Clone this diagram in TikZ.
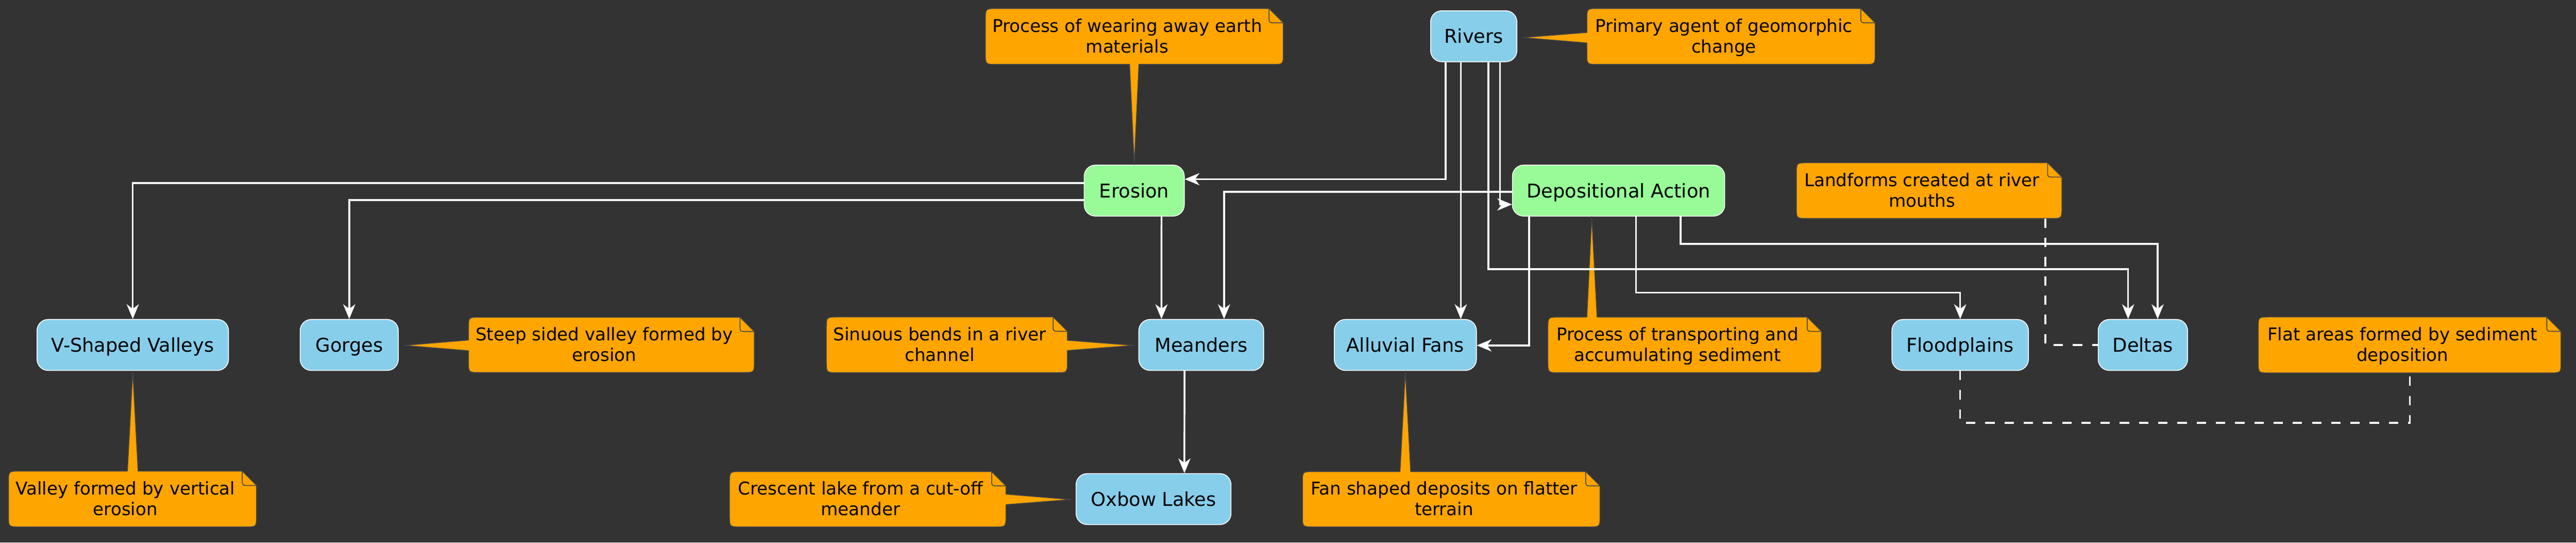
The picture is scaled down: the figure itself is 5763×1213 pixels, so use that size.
\documentclass[tikz,border=0pt]{standalone}
\usepackage{fontspec}
\setmainfont{DejaVu Sans}
\usetikzlibrary{arrows.meta,calc}
\definecolor{bg}{HTML}{333333}
\definecolor{skyb}{HTML}{87CEEB}
\definecolor{paleg}{HTML}{98FB98}
\definecolor{noteor}{HTML}{FFA500}
\definecolor{notebd}{HTML}{454545}
\newcommand{\nodefont}{\fontsize{10.6pt}{12.4pt}\selectfont}
\newcommand{\notefont}{\fontsize{9.84pt}{11.5pt}\selectfont}
\tikzset{
  box/.style={rounded corners=6.25pt, draw=white, line width=0.45pt, inner sep=0pt,
    minimum height=28.5pt, font=\nodefont, text=black, text height=9.86pt, text depth=2.1pt},
  leafbox/.style={box, fill=skyb},
  procbox/.style={box, fill=paleg},
  conn/.style={draw=white, line width=1pt, -{Stealth[length=8.25pt,width=6.8pt,inset=2.5pt]}},
  dashconn/.style={draw=white, line width=1pt, dash pattern=on 5.25pt off 5.5pt},
  noteshape/.style={fill=noteor, draw=notebd, line width=0.45pt, line join=round},
  foldline/.style={draw=notebd, line width=0.45pt},
  notetext/.style={font=\notefont, text=black, anchor=base, inner sep=0pt},
}
% l t r b topfrag rightfrag bottomfrag leftfrag name
\newcommand{\notebox}[9]{%
  \path[noteshape] ({#1+25},#2) #5 -- ({#3-32},#2) -- (#3,{#2+32}) #6 -- (#3,{#4-25})
    .. controls (#3,#4) .. ({#3-25},#4) #7 -- ({#1+25},#4)
    .. controls (#1,#4) .. (#1,{#4-25}) #8 -- (#1,{#2+25})
    .. controls (#1,#2) .. ({#1+25},#2) -- cycle;
  \draw[foldline] ({#3-32},#2) -- ({#3-32},{#2+18}) .. controls ({#3-32},{#2+32}) .. ({#3-18},{#2+32}) -- (#3,{#2+32});
  \coordinate (#9) at ({(#1+#3-32)/2},{(#2+#4)/2});
}
\newcommand{\notetxt}[3]{%
  \node[notetext] (#1a) at ($(#1)+(0,-10)$) {#2};
  \node[notetext] (#1b) at ($(#1)+(0,36.5)$) {#3};
}
\begin{document}
\begin{tikzpicture}[x=0.25pt,y=-0.25pt]
\useasboundingbox (0,0) rectangle (5763,1213);
\fill[bg] (0,0) rectangle (5763,1213);

% nodes
\node[leafbox, minimum width=48.25pt] (rivers) at (3297,81) {Rivers};
\node[procbox, minimum width=56pt] (erosion) at (2537.5,426) {Erosion};
\node[procbox, minimum width=118.75pt] (da) at (3621,426) {Depositional Action};
\node[leafbox, minimum width=107.1pt] (vsv) at (297,771) {V-Shaped Valleys};
\node[leafbox, minimum width=54.9pt] (gorges) at (781.3,771) {Gorges};
\node[leafbox, minimum width=69.8pt] (meanders) at (2687.4,771) {Meanders};
\node[leafbox, minimum width=79.5pt] (af) at (3144,771) {Alluvial Fans};
\node[leafbox, minimum width=76.35pt] (flood) at (4385.3,771) {Floodplains};
\node[leafbox, minimum width=50pt] (deltas) at (4794,771) {Deltas};
\node[leafbox, minimum width=86.65pt] (oxbow) at (2580.7,1115.5) {Oxbow Lakes};

% notes
\notebox{2204.5}{19}{2871}{144}{}{}{-- (2548,144) -- (erosion.north) -- (2527,144)}{}{n1}
\notetxt{n1}{Process of wearing away earth}{materials}
\notebox{3550}{19}{4195}{144}{}{}{}{-- (3550,96) -- ($(rivers.east)+(11,3)$) -- (3550,72.5)}{n2}
\notetxt{n2}{Primary agent of geomorphic}{change}
\notebox{1048}{709}{1687.6}{832.7}{}{}{}{-- (1048,784) -- ($(gorges.east)+(12,1)$) -- (1048,760)}{n3}
\notetxt{n3}{Steep sided valley formed by}{erosion}
\notebox{19}{1053}{574}{1177.7}{-- (285,1053) -- (vsv.south) -- (309,1053)}{}{}{}{n4}
\notetxt{n4}{Valley formed by vertical}{erosion}
\notebox{1848.7}{708.5}{2388}{833}{}{-- (2388,760.5) -- ($(meanders.west)+(-10,1)$) -- (2388,783.5)}{}{}{n5}
\notetxt{n5}{Sinuous bends in a river}{channel}
\notebox{1632}{1054}{2250.5}{1177.7}{}{-- (2250.5,1104.5) -- ($(oxbow.west)+(-10,1)$) -- (2250.5,1128)}{}{}{n6}
\notetxt{n6}{Crescent lake from a cut-off}{meander}
\notebox{2913.8}{1054}{3579.6}{1177.7}{-- (3132,1054) -- (af.south) -- (3156,1054)}{}{}{}{n7}
\notetxt{n7}{Fan shaped deposits on flatter}{terrain}
\notebox{3462.9}{708.7}{4075}{833}{-- (3550,708.7) -- ($(da.south)+(-60,0)$) -- (3573,708.7)}{}{}{}{n8}
\notetxt{n8}{Process of transporting and}{accumulating sediment}
\notebox{4018.8}{363.8}{4612.8}{488.4}{}{}{}{}{n9}
\notetxt{n9}{Landforms created at river}{mouths}
\notebox{5052}{708.5}{5729.5}{833.5}{}{}{}{}{n10}
\notetxt{n10}{Flat areas formed by sediment}{deposition}
\coordinate (n9port) at (4576,488.4);
\coordinate (n10port) at (5391,833.5);

% connectors
\draw[conn] ($(rivers.south)+(-63,0)$) |- ($(erosion.east)+(0,-25.5)$);
\draw[conn] ($(rivers.south)+(-29,0)$) -- ($(af.north)+(124,0)$);
\draw[conn] ($(rivers.south)+(33,0)$) -- ++(0,462.5) -| ($(deltas.north)+(-33,0)$);
\draw[conn] ($(rivers.south)+(59,0)$) |- ($(da.west)+(0,31)$);
\draw[conn] ($(da.west)+(0,2.5)$) -| ($(meanders.north)+(51,0)$);
\draw[conn] ($(erosion.west)+(0,-17)$) -| (vsv.north);
\draw[conn] ($(erosion.west)+(0,21)$) -| (gorges.north);
\draw[conn] ($(erosion.south)+(61,0)$) -- ($(meanders.north)+(-89,0)$);
\draw[conn] ($(da.south)+(-200,0)$) |- ($(af.east)+(0,1)$);
\draw[conn] ($(da.south)+(39,0)$) -- ++(0,170) -| (flood.north);
\draw[conn] ($(da.south)+(139,0)$) -- ++(0,61) -| ($(deltas.north)+(33,0)$);
\draw[conn] ($(meanders.south)+(-37.5,0)$) -- ($(oxbow.north)+(69,0)$);

% dashed note links
\draw[dashconn] (n9port) |- (deltas.west);
\draw[dashconn] (flood.south) -- ++(0,116) -| (n10port);
\end{tikzpicture}
\end{document}
